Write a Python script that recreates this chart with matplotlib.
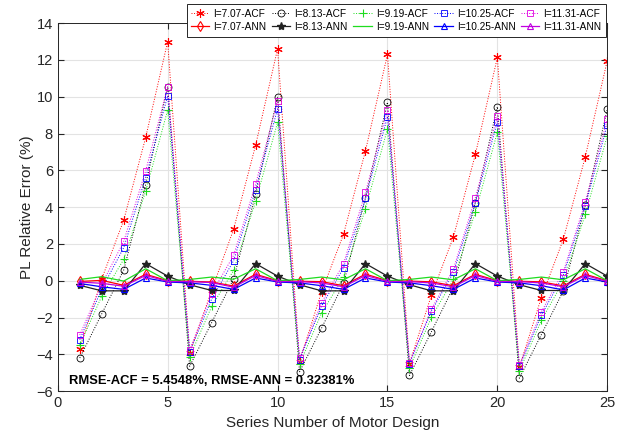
import numpy as np
import matplotlib
matplotlib.use('Agg')
import matplotlib.pyplot as plt

plt.rcParams['font.family'] = ['Liberation Sans', 'DejaVu Sans']

# numero de serie del diseno
x = list(range(1, 26))

# valores ACF (%)
acf_707 = [-3.7, 0.1, 3.29, 7.79, 13.0,
           -3.95, -0.53, 2.8, 7.36, 12.6,
           -4.4, -0.6, 2.52, 7.07, 12.3,
           -4.5, -0.78, 2.38, 6.87, 12.14,
           -4.7, -0.92, 2.25, 6.74, 11.97]
acf_813 = [-4.2, -1.8, 0.58, 5.23, 10.55,
           -4.65, -2.28, 0.1, 4.7, 10.0,
           -4.95, -2.58, -0.15, 4.5, 9.7,
           -5.15, -2.77, -0.35, 4.25, 9.46,
           -5.3, -2.93, -0.55, 4.1, 9.32]
acf_919 = [-3.5, -0.84, 1.16, 4.87, 9.28,
           -4.15, -1.4, 0.56, 4.32, 8.61,
           -4.55, -1.76, 0.2, 3.92, 8.25,
           -4.75, -1.98, 0.07, 3.74, 8.07,
           -4.9, -2.16, -0.02, 3.6, 7.88]
acf_1025 = [-3.2, -0.45, 1.8, 5.61, 10.05,
            -3.85, -1.0, 1.09, 4.94, 9.34,
            -4.3, -1.38, 0.7, 4.47, 8.92,
            -4.5, -1.65, 0.45, 4.25, 8.65,
            -4.65, -1.88, 0.29, 4.07, 8.46]
acf_1131 = [-2.95, -0.2, 2.14, 5.98, 10.55,
            -3.75, -0.7, 1.38, 5.24, 9.77,
            -4.2, -1.2, 0.93, 4.8, 9.28,
            -4.45, -1.55, 0.63, 4.52, 8.97,
            -4.6, -1.7, 0.49, 4.29, 8.77]

# valores ANN (%)
ann_707 = [-0.04, 0.02, -0.25, 0.35, 0.0,
           -0.03, -0.07, -0.29, 0.35, 0.0,
           -0.03, -0.05, -0.27, 0.36, 0.0,
           -0.02, -0.06, -0.27, 0.35, 0.0,
           -0.03, -0.06, -0.28, 0.35, 0.0]
ann_813 = [-0.25, -0.55, -0.55, 0.93, 0.25,
           -0.22, -0.53, -0.53, 0.93, 0.25,
           -0.22, -0.55, -0.55, 0.93, 0.25,
           -0.22, -0.55, -0.55, 0.93, 0.25,
           -0.22, -0.53, -0.53, 0.93, 0.25]
ann_919 = [0.07, 0.22, -0.02, 0.65, 0.0,
           0.07, 0.2, 0.08, 0.65, 0.0,
           0.07, 0.2, 0.05, 0.65, 0.0,
           0.07, 0.2, 0.05, 0.65, 0.0,
           0.07, 0.2, 0.05, 0.65, 0.0]
ann_1025 = [-0.15, -0.33, -0.47, 0.15, -0.07,
            -0.12, -0.25, -0.47, 0.15, -0.07,
            -0.12, -0.27, -0.47, 0.15, -0.07,
            -0.12, -0.27, -0.47, 0.15, -0.07,
            -0.12, -0.27, -0.5, 0.15, -0.07]
ann_1131 = [-0.07, -0.14, -0.3, 0.29, -0.04,
            -0.05, -0.1, -0.35, 0.29, -0.04,
            -0.05, -0.12, -0.33, 0.29, -0.04,
            -0.05, -0.12, -0.33, 0.29, -0.04,
            -0.05, -0.12, -0.33, 0.29, -0.04]

verde = '#1fdc1f'

fig = plt.figure(figsize=(6.28, 4.37), dpi=100)
ax = fig.add_axes([0.092, 0.105, 0.875, 0.842])

# ACF: lineas punteadas
h_acf = []
h_acf += ax.plot(x, acf_707, ':', color='red', marker=(6, 2, 0), ms=6, lw=0.7, mew=0.8, label='I=7.07-ACF')
h_acf += ax.plot(x, acf_813, ':', color='black', marker='o', mfc='none', ms=5, lw=0.7, mew=0.6, label='I=8.13-ACF')
h_acf += ax.plot(x, acf_919, ':', color=verde, marker='+', ms=6, lw=0.7, mew=0.8, label='I=9.19-ACF')
h_acf += ax.plot(x, acf_1025, ':', color='blue', marker='s', mfc='none', ms=4.5, lw=0.7, mew=0.6, label='I=10.25-ACF')
h_acf += ax.plot(x, acf_1131, ':', color='#e000e0', marker='s', mfc='none', ms=4.5, lw=0.7, mew=0.6, label='I=11.31-ACF')

# ANN: lineas solidas
h_ann = []
h_ann += ax.plot(x, ann_707, '-', color='red', marker='d', mfc='none', ms=5, lw=0.9, mew=0.8, label='I=7.07-ANN')
h_ann += ax.plot(x, ann_813, '-', color='#222222', marker='*', ms=6, lw=0.9, label='I=8.13-ANN')
h_ann += ax.plot(x, ann_919, '-', color=verde, lw=0.9, label='I=9.19-ANN')
h_ann += ax.plot(x, ann_1025, '-', color='blue', marker='^', mfc='none', ms=5, lw=0.9, mew=0.8, label='I=10.25-ANN')
h_ann += ax.plot(x, ann_1131, '-', color='#c000e0', marker='^', mfc='none', ms=5, lw=0.9, mew=0.8, label='I=11.31-ANN')

ax.set_xlim(0, 25)
ax.set_ylim(-6, 14)
ax.set_xticks(range(0, 26, 5))
ax.set_yticks(range(-6, 15, 2))
ax.grid(True, color='#e3e3e3', lw=0.8)
ax.set_axisbelow(True)
ax.tick_params(direction='in', top=True, right=True, labelsize=10.5, colors='#262626', length=4)
for s in ax.spines.values():
    s.set_color('#262626')
    s.set_linewidth(0.7)

ax.set_xlabel('Series Number of Motor Design', fontsize=11, color='#262626')
ax.set_ylabel('PL Relative Error (%)', fontsize=11, color='#262626', labelpad=2)

ax.text(0.02, 0.012, 'RMSE-ACF = 5.4548%, RMSE-ANN = 0.32381%', transform=ax.transAxes,
        fontsize=9.4, fontweight='bold', va='bottom', ha='left')

# leyenda por filas: ACF arriba, ANN abajo
handles = []
for a, b in zip(h_acf, h_ann):
    handles += [a, b]
leg = fig.legend(handles=handles, loc='upper right', bbox_to_anchor=(0.965, 0.99), ncol=5, fontsize=7.3,
                 frameon=True, fancybox=False, edgecolor='#262626', framealpha=1,
                 handlelength=1.8, handletextpad=0.4, columnspacing=0.55,
                 borderpad=0.45, labelspacing=0.3, borderaxespad=0)
leg.get_frame().set_linewidth(0.7)

fig.savefig('out.png', dpi=100)
